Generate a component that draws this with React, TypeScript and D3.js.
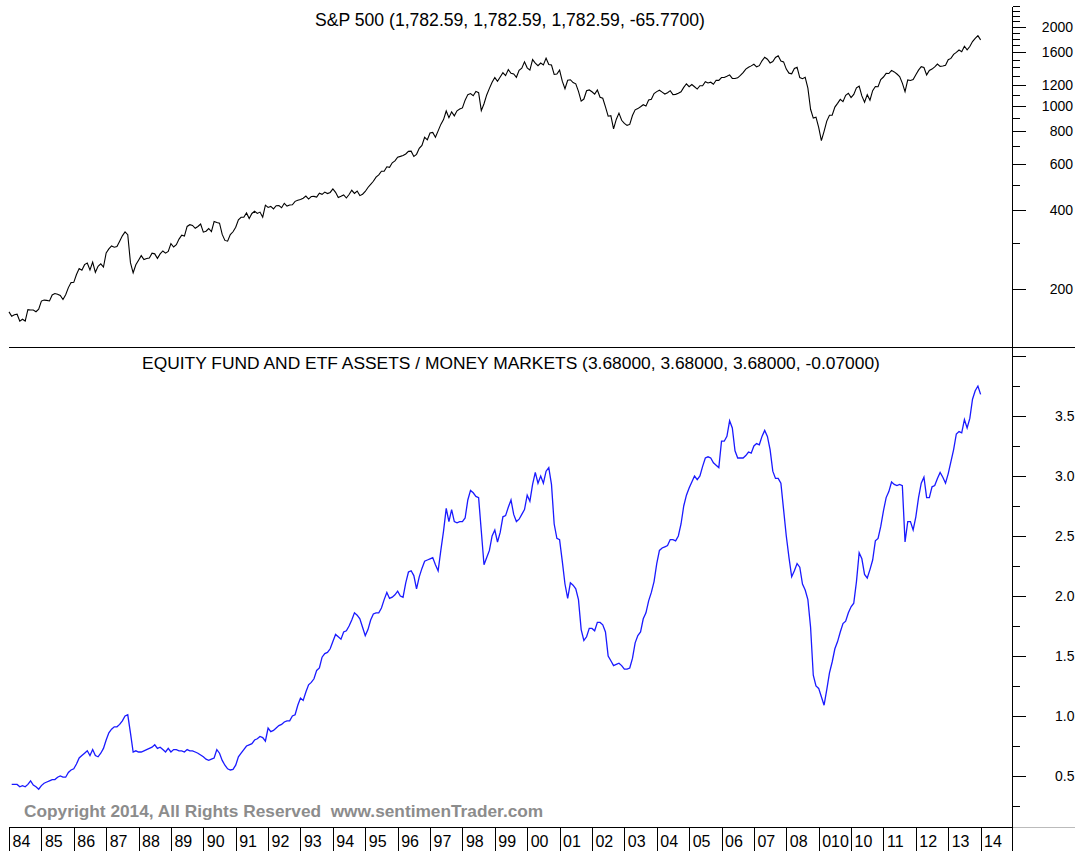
import React from 'react';
import * as d3 from 'd3';

// monthly closes, Jan 1984 .. Jan 2014
const spxStart = 1984;
const spx = [
  163.4, 157.1, 159.2, 160.1, 150.6, 153.2, 150.7, 166.7, 166.1, 166.1, 163.6, 167.2,
  179.6, 181.2, 180.7, 179.8, 189.6, 191.9, 190.9, 188.6, 182.1, 189.8, 202.2, 211.3,
  211.8, 226.9, 238.9, 235.5, 247.4, 250.8, 236.1, 252.9, 231.3, 244.0, 249.2, 242.2,
  274.1, 284.2, 291.7, 288.4, 290.1, 304.0, 318.7, 329.8, 321.8, 251.8, 230.3, 247.1,
  257.1, 267.8, 258.9, 261.3, 262.2, 273.5, 272.0, 261.5, 271.9, 279.0, 273.7, 277.7,
  297.5, 288.9, 294.9, 309.6, 320.5, 318.0, 346.1, 351.5, 349.2, 340.4, 346.0, 353.4,
  329.1, 331.9, 339.9, 330.8, 361.2, 358.0, 356.2, 322.6, 306.1, 304.0, 322.2, 330.2,
  343.9, 367.1, 375.2, 375.3, 389.8, 371.2, 387.8, 395.4, 387.9, 392.5, 375.2, 417.1,
  408.8, 412.7, 403.7, 415.0, 415.4, 408.1, 424.2, 414.0, 417.8, 418.7, 431.4, 435.7,
  438.8, 443.4, 451.7, 440.2, 450.2, 450.5, 448.1, 463.6, 458.9, 467.8, 461.8, 466.5,
  481.6, 467.1, 445.8, 450.9, 456.5, 444.3, 458.3, 475.5, 462.7, 472.4, 453.7, 459.3,
  470.4, 487.4, 500.7, 514.7, 533.4, 544.8, 562.1, 561.9, 584.4, 581.5, 605.4, 615.9,
  636.0, 640.4, 645.5, 654.2, 669.1, 670.6, 640.0, 652.0, 687.3, 705.3, 757.0, 740.7,
  786.2, 790.8, 757.1, 801.3, 848.3, 885.1, 954.3, 899.5, 947.3, 914.6, 955.4, 970.4,
  980.3, 1049.3, 1101.8, 1111.8, 1090.8, 1133.8, 1120.7, 957.3, 1017.0, 1098.7, 1163.6, 1229.2,
  1279.6, 1238.3, 1286.4, 1335.2, 1301.8, 1372.7, 1328.7, 1320.4, 1282.7, 1362.9, 1388.9, 1469.3,
  1394.5, 1366.4, 1498.6, 1452.4, 1420.6, 1454.6, 1430.8, 1517.7, 1436.5, 1429.4, 1315.2, 1320.3,
  1366.0, 1239.9, 1160.3, 1249.5, 1255.8, 1224.4, 1211.2, 1133.6, 1040.9, 1059.8, 1139.5, 1148.1,
  1130.2, 1106.7, 1147.4, 1076.9, 1067.1, 989.8, 911.6, 916.1, 815.3, 885.8, 936.3, 879.8,
  855.7, 841.2, 848.2, 916.9, 963.6, 974.5, 990.3, 1008.0, 996.0, 1050.7, 1058.2, 1111.9,
  1131.1, 1144.9, 1126.2, 1107.3, 1120.7, 1140.8, 1101.7, 1104.2, 1114.6, 1130.2, 1173.8, 1211.9,
  1181.3, 1203.6, 1180.6, 1156.9, 1191.5, 1191.3, 1234.2, 1220.3, 1228.8, 1207.0, 1249.5, 1248.3,
  1280.1, 1280.7, 1294.9, 1310.6, 1270.1, 1270.2, 1276.7, 1303.8, 1335.9, 1377.9, 1400.6, 1418.3,
  1438.2, 1406.8, 1420.9, 1482.4, 1530.6, 1503.4, 1455.3, 1474.0, 1526.8, 1549.4, 1481.1, 1468.4,
  1378.6, 1330.6, 1322.7, 1385.6, 1400.4, 1280.0, 1267.4, 1282.8, 1166.4, 968.8, 896.2, 903.3,
  825.9, 735.1, 797.9, 872.8, 919.1, 919.3, 987.5, 1020.6, 1057.1, 1036.2, 1095.6, 1115.1,
  1073.9, 1104.5, 1169.4, 1186.7, 1089.4, 1030.7, 1101.6, 1049.3, 1141.2, 1183.3, 1180.6, 1257.6,
  1286.1, 1327.2, 1325.8, 1363.6, 1345.2, 1320.6, 1292.3, 1218.9, 1131.4, 1253.3, 1247.0, 1257.6,
  1312.4, 1365.7, 1408.5, 1397.9, 1310.3, 1362.2, 1379.3, 1406.6, 1440.7, 1412.2, 1416.2, 1426.2,
  1498.1, 1514.7, 1569.2, 1597.6, 1630.7, 1606.3, 1685.7, 1633.0, 1681.6, 1756.5, 1805.8, 1848.4,
  1782.6,
];

// equity fund + ETF assets / money markets, Feb 1984 .. Jan 2014
const ratioStart = 1984 + 1 / 12;
const ratio = [
  0.43, 0.43, 0.43, 0.41, 0.42, 0.41, 0.43, 0.46, 0.425, 0.41, 0.39,
  0.42, 0.44, 0.45, 0.46, 0.47, 0.47, 0.49, 0.50, 0.49, 0.49, 0.53, 0.55,
  0.56, 0.60, 0.65, 0.67, 0.69, 0.71, 0.67, 0.72, 0.67, 0.66, 0.69, 0.73,
  0.80, 0.86, 0.89, 0.91, 0.91, 0.93, 0.96, 1.00, 1.01, 0.86, 0.70, 0.71,
  0.70, 0.70, 0.71, 0.72, 0.73, 0.74, 0.76, 0.73, 0.74, 0.72, 0.70, 0.73,
  0.70, 0.72, 0.72, 0.71, 0.71, 0.70, 0.72, 0.71, 0.71, 0.70, 0.69, 0.675,
  0.66, 0.64, 0.63, 0.64, 0.65, 0.72, 0.69, 0.63, 0.59, 0.56, 0.55, 0.555,
  0.59, 0.66, 0.69, 0.72, 0.75, 0.76, 0.77, 0.80, 0.81, 0.83, 0.82, 0.79,
  0.90, 0.87, 0.88, 0.90, 0.92, 0.93, 0.95, 0.96, 0.96, 1.00, 1.01, 1.09,
  1.15, 1.13, 1.20, 1.26, 1.28, 1.31, 1.38, 1.40, 1.49, 1.52, 1.53, 1.56,
  1.62, 1.68, 1.66, 1.64, 1.70, 1.71, 1.75, 1.80, 1.86, 1.84, 1.81, 1.74,
  1.67, 1.72, 1.80, 1.85, 1.86, 1.86, 1.90, 1.97, 2.03, 1.98, 1.99, 2.01,
  2.04, 2.00, 1.99, 2.11, 2.20, 2.21, 2.17, 2.06, 2.16, 2.23, 2.29, 2.30,
  2.31, 2.32, 2.26, 2.21, 2.38, 2.54, 2.73, 2.62, 2.72, 2.62, 2.61, 2.62,
  2.62, 2.65, 2.80, 2.88, 2.86, 2.83, 2.82, 2.54, 2.26, 2.32, 2.38, 2.50,
  2.55, 2.45, 2.53, 2.66, 2.67, 2.74, 2.80, 2.68, 2.62, 2.64, 2.68, 2.72,
  2.84, 2.79, 2.93, 3.03, 2.94, 3.00, 2.94, 3.04, 3.07, 2.93, 2.60, 2.48,
  2.47, 2.29, 2.10, 1.98, 2.11, 2.09, 2.06, 1.97, 1.72, 1.63, 1.66, 1.73,
  1.73, 1.71, 1.78, 1.78, 1.76, 1.70, 1.50, 1.46, 1.42, 1.43, 1.44, 1.42,
  1.39, 1.39, 1.40, 1.48, 1.61, 1.67, 1.70, 1.81, 1.86, 1.96, 2.03, 2.12,
  2.27, 2.38, 2.40, 2.41, 2.42, 2.47, 2.47, 2.46, 2.50, 2.60, 2.75, 2.84,
  2.90, 2.95, 3.00, 2.97, 3.00, 3.08, 3.15, 3.16, 3.15, 3.11, 3.09, 3.07,
  3.29, 3.29, 3.33, 3.46, 3.40, 3.21, 3.15, 3.15, 3.15, 3.17, 3.20, 3.19,
  3.25, 3.27, 3.26, 3.33, 3.38, 3.33, 3.22, 3.04, 2.98, 2.98, 2.94, 2.72,
  2.50, 2.32, 2.16, 2.21, 2.27, 2.24, 2.10, 2.05, 1.97, 1.74, 1.34, 1.25,
  1.23, 1.16, 1.09, 1.22, 1.36, 1.45, 1.56, 1.62, 1.70, 1.77, 1.79, 1.86,
  1.91, 1.94, 2.12, 2.36, 2.31, 2.18, 2.15, 2.22, 2.30, 2.46, 2.48, 2.58,
  2.71, 2.82, 2.87, 2.95, 2.93, 2.92, 2.93, 2.92, 2.45, 2.62, 2.62, 2.55,
  2.66, 2.82, 2.94, 2.99, 2.82, 2.82, 2.91, 2.92, 2.98, 3.03, 2.99, 2.94,
  3.02, 3.12, 3.22, 3.35, 3.37, 3.36, 3.47, 3.40, 3.48, 3.64, 3.71, 3.75,
  3.68,
];

const years = d3.range(1984, 2015);
const yearLabels = [
  '84', '85', '86', '87', '88', '89', '90', '91', '92', '93', '94', '95', '96', '97', '98',
  '99', '00', '01', '02', '03', '04', '05', '06', '07', '08', '010', '10', '11', '12', '13', '14',
];

const spxMajor = [200, 400, 600, 800, 1000, 1200, 1600, 2000];
const spxMinor = [300, 500, 700, 900, 1100, 1300, 1400, 1500, 1700, 1800, 1900, 2100, 2200, 2300, 2400];
const ratioMajor = [0.5, 1.0, 1.5, 2.0, 2.5, 3.0, 3.5, 4.0];
const ratioLabels = ['0.5', '1.0', '1.5', '2.0', '2.5', '3.0', '3.5', ''];
const ratioMinor = [0.25, 0.75, 1.25, 1.75, 2.25, 2.75, 3.25, 3.75];

const topTitle = 'S&P 500 (1,782.59, 1,782.59, 1,782.59, -65.7700)';
const bottomTitle = 'EQUITY FUND AND ETF ASSETS / MONEY MARKETS (3.68000, 3.68000, 3.68000, -0.07000)';
const copyright = 'Copyright 2014, All Rights Reserved  www.sentimenTrader.com';

const W = 1075, H = 851;
const left = 9, axisX = 1013;
const split = 347, bottom = 827;
const font = '"Liberation Sans", Arial, sans-serif';

export default function App() {
  const x = d3.scaleLinear().domain([1984, 2015]).range([left, axisX]);
  const yTop = d3.scaleLog().domain([120, 2530]).range([split, 0]);
  const yBot = d3.scaleLinear().domain([0.075, 4.075]).range([bottom, split]);

  const spxLine = d3.line<number>()
    .x((d, i) => x(spxStart + i / 12))
    .y(d => yTop(d));
  const ratioLine = d3.line<number>()
    .x((d, i) => x(ratioStart + i / 12))
    .y(d => yBot(d));

  const py = (v: number) => Math.round(v) + 0.5;

  return (
    <svg width={W} height={H} style={{ position: 'absolute', left: 0, top: 0, background: '#fff' }}
      fontFamily={font}>
      <rect width={W} height={H} fill="#fff" />

      {/* titles */}
      <text x={510} y={26} fontSize={17.6} textAnchor="middle" fill="#000">{topTitle}</text>
      <text x={511} y={369} fontSize={17.4} textAnchor="middle" fill="#000">{bottomTitle}</text>

      {/* series */}
      <path d={spxLine(spx) || ''} fill="none" stroke="#000" strokeWidth={1.1} />
      <path d={ratioLine(ratio) || ''} fill="none" stroke="#1a1aff" strokeWidth={1.3} />

      {/* frame */}
      <line x1={left} x2={W} y1={split + 0.5} y2={split + 0.5} stroke="#000" />
      <line x1={left} x2={axisX} y1={bottom + 0.5} y2={bottom + 0.5} stroke="#000" />
      <line x1={axisX} x2={W} y1={bottom + 0.5} y2={bottom + 0.5} stroke="#bbb" />
      <line x1={axisX - 0.5} x2={axisX - 0.5} y1={7} y2={bottom + 1} stroke="#000" />

      {/* right axis, top panel (log) */}
      {spxMinor.map(v => (
        <line key={'tm' + v} x1={axisX} x2={axisX + 7} y1={py(yTop(v))} y2={py(yTop(v))} stroke="#000" />
      ))}
      {spxMajor.map(v => (
        <g key={'tM' + v}>
          <line x1={axisX} x2={axisX + 13} y1={py(yTop(v))} y2={py(yTop(v))} stroke="#000" />
          <text x={1073} y={yTop(v) + 5} fontSize={14} textAnchor="end" fill="#000">{v}</text>
        </g>
      ))}

      {/* right axis, bottom panel */}
      {ratioMinor.map(v => (
        <line key={'bm' + v} x1={axisX} x2={axisX + 7} y1={py(yBot(v))} y2={py(yBot(v))} stroke="#000" />
      ))}
      {ratioMajor.map((v, i) => (
        <g key={'bM' + v}>
          <line x1={axisX} x2={axisX + 13} y1={py(yBot(v))} y2={py(yBot(v))} stroke="#000" />
          <text x={1055} y={yBot(v) + 5} fontSize={14} fill="#000">{ratioLabels[i]}</text>
        </g>
      ))}

      {/* copyright */}
      <text x={24} y={817} fontSize={17.3} fontWeight="bold" fill="#8c8c8c"
        style={{ whiteSpace: 'pre' }}>{copyright}</text>

      {/* year boxes */}
      {years.map((yr, i) => (
        <g key={yr}>
          <line x1={py(x(yr))} x2={py(x(yr))} y1={bottom} y2={H} stroke="#000" />
          <text x={x(yr) + 3.5} y={847} fontSize={16} fill="#000">{yearLabels[i]}</text>
        </g>
      ))}
      <line x1={axisX - 0.5} x2={axisX - 0.5} y1={bottom} y2={H} stroke="#000" />
    </svg>
  );
}
